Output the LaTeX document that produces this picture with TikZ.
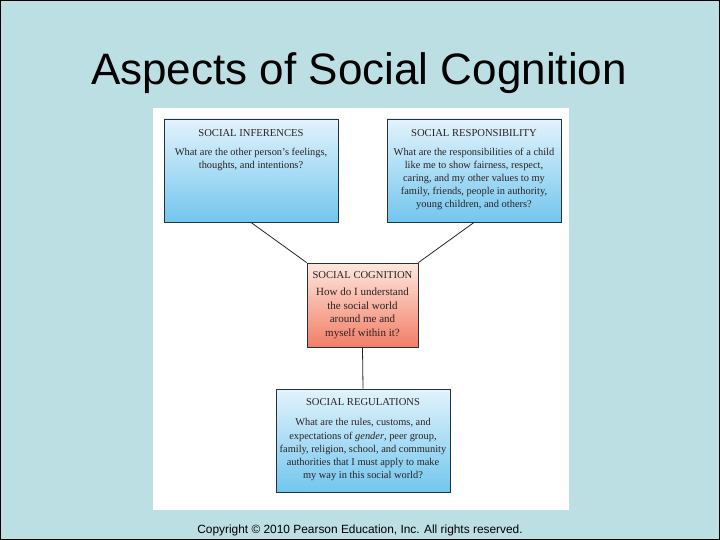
\documentclass[tikz,border=0pt]{standalone}
\usepackage{fontspec}
\setmainfont{Liberation Serif}
\newfontfamily\slidefont{Liberation Sans}
\definecolor{slidebg}{HTML}{BCDFE3}
\definecolor{bluetop}{HTML}{E2F3FC}
\definecolor{bluebot}{HTML}{72C6EE}
\definecolor{redtop}{HTML}{FDE8DE}
\definecolor{redbot}{HTML}{F27E66}
\definecolor{boxline}{HTML}{263238}
\definecolor{inktext}{HTML}{2B2222}
\begin{document}
\begin{tikzpicture}[x=1pt,y=-1pt,
    bluebox/.style={draw=boxline,line width=0.9pt,top color=bluetop,bottom color=bluebot,
      minimum width=174pt,minimum height=103pt,inner sep=0pt},
    redbox/.style={draw=boxline,line width=0.9pt,top color=redtop,bottom color=redbot,
      minimum width=111pt,minimum height=84pt,inner sep=0pt},
    headtext/.style={anchor=north,inner sep=0pt,text=inktext,font=\fontsize{10.6}{12}\selectfont},
    bodytext/.style={anchor=north,inner sep=0pt,align=center,text=inktext,
      font=\fontsize{10.4}{13.2}\selectfont},
    link/.style={draw=black!85,line width=0.8pt}]
  % slide and white panel
  \fill[slidebg] (0,0) rectangle (720,540);
  \draw[black,line width=1pt] (0.5,0.5) rectangle (719.5,539.5);
  \fill[white] (153,108) rectangle (569,510);
  \node[font=\slidefont\fontsize{44}{48}\selectfont,anchor=base] (title) at (359,85) {Aspects of Social Cognition};
  \node[font=\slidefont\fontsize{11.9}{14}\selectfont,anchor=base] (copyright) at (360,533) {Copyright \textcopyright{} 2010 Pearson Education, Inc. All rights reserved.};

  % the four boxes
  \node[bluebox] (inferences) at (251,170.5) {};
  \node[bluebox] (responsibility) at (474,170.5) {};
  \node[redbox] (cognition) at (362.5,305) {};
  \node[bluebox] (regulations) at (363,440.5) {};

  \node[headtext] (infhead) at ([yshift=-11pt]inferences.north) {SOCIAL INFERENCES};
  \node[bodytext] (infbody) at ([yshift=-29pt]inferences.north)
    {What are the other person's feelings,\\thoughts, and intentions?};
  \node[headtext] (resphead) at ([yshift=-11pt]responsibility.north) {SOCIAL RESPONSIBILITY};
  \node[bodytext] (respbody) at ([yshift=-29pt]responsibility.north)
    {What are the responsibilities of a child\\like me to show fairness, respect,\\caring, and my other values to my\\family, friends, people in authority,\\young children, and others?};
  \node[headtext] (coghead) at ([yshift=-9pt]cognition.north) {SOCIAL COGNITION};
  \node[bodytext,font=\fontsize{11}{13.4}\selectfont] (cogbody) at ([yshift=-25.5pt]cognition.north)
    {How do I understand\\the social world\\around me and\\myself within it?};
  \node[headtext] (reghead) at ([yshift=-10pt]regulations.north) {SOCIAL REGULATIONS};
  \node[bodytext] (regbody) at ([yshift=-30pt]regulations.north)
    {What are the rules, customs, and\\expectations of \textit{gender}, peer group,\\family, religion, school, and community\\authorities that I must apply to make\\my way in this social world?};

  % connectors
  \draw[link] (inferences.south) -- (cognition.north west);
  \draw[link] (responsibility.south) -- (cognition.north east);
  \draw[link] (cognition.south) -- (regulations.north);
\end{tikzpicture}
\end{document}
